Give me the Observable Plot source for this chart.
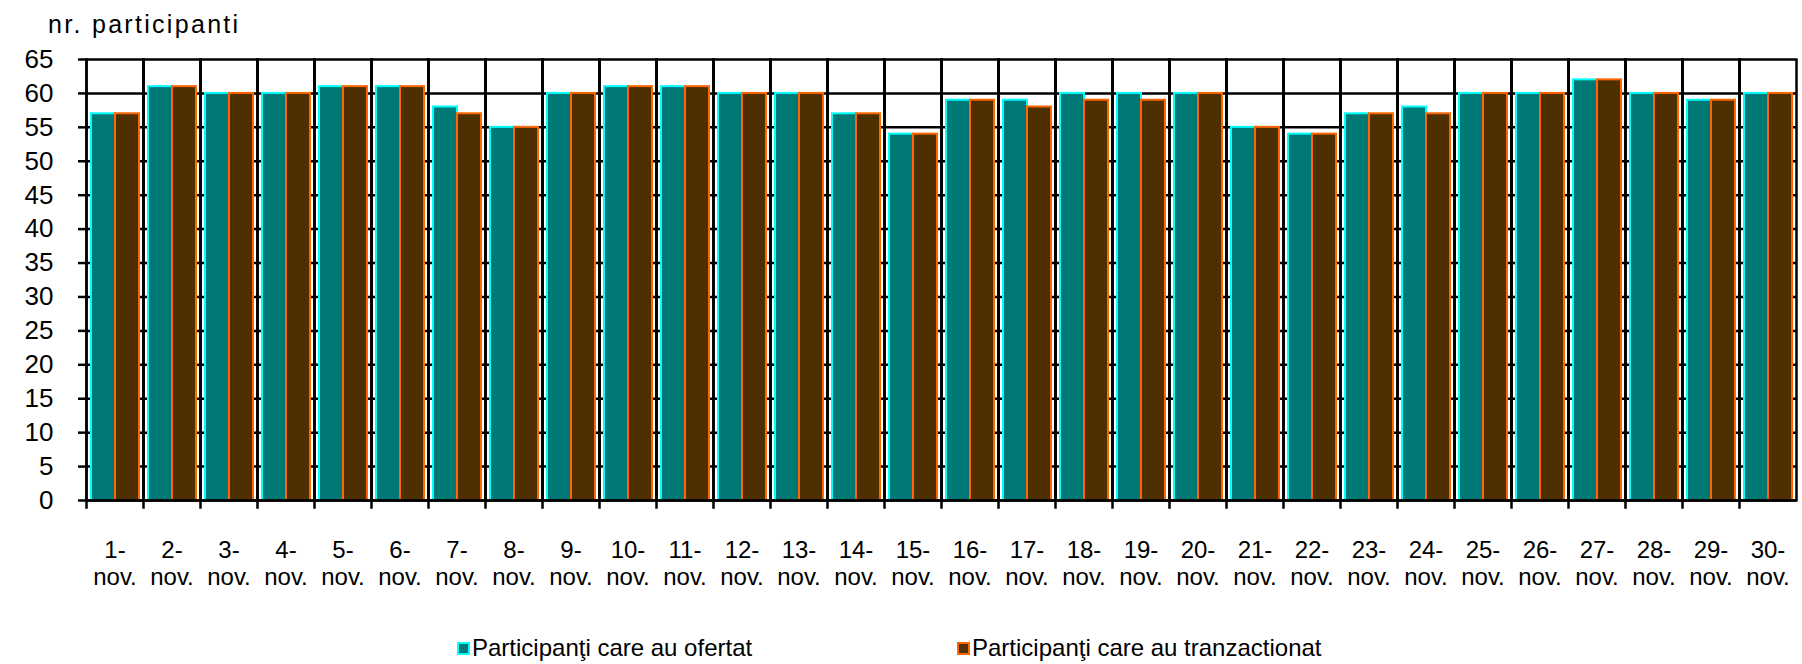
<!DOCTYPE html>
<html><head><meta charset="utf-8">
<script src="https://cdn.jsdelivr.net/npm/d3@7"></script>
<script src="https://cdn.jsdelivr.net/npm/@observablehq/plot@0.6"></script>
<style>
html,body{margin:0;padding:0;background:#fff;overflow:hidden;width:1802px;height:664px;font-family:"Liberation Sans",Arial,sans-serif;color:#000;}
#title{height:28px;padding-top:12px;padding-left:48px;font-size:25px;line-height:25px;letter-spacing:2.3px;}
#legend{position:relative;height:29px;margin-top:38px;font-size:24px;line-height:29px;}
.item{position:absolute;top:0;white-space:nowrap;}
.sw{display:inline-block;width:9px;height:9px;border:2px solid;margin-right:2px;vertical-align:1px;}
</style></head><body>
<div id="title">nr. participanti</div>
<div id="chart"></div>
<div id="legend"></div>
<script>
const days = [1,2,3,4,5,6,7,8,9,10,11,12,13,14,15,16,17,18,19,20,21,22,23,24,25,26,27,28,29,30];
const month = "nov.";
const seriesNames = ["Participanţi care au ofertat", "Participanţi care au tranzactionat"];
const ofertat =       [57,61,60,60,61,61,58,55,60,61,61,60,60,57,54,59,59,60,60,60,55,54,57,58,60,60,62,60,59,60];
const tranzactionat = [57,61,60,60,61,61,57,55,60,61,61,60,60,57,54,59,58,59,59,60,55,54,57,57,60,60,62,60,59,60];
const yTicks = [0,5,10,15,20,25,30,35,40,45,50,55,60,65];
const fills = ["#007875", "#4e2f00"];
const strokes = ["#00ffff", "#ff6600"];

const data = days.flatMap((d, i) => [
  {day: d, series: seriesNames[0], value: ofertat[i]},
  {day: d, series: seriesNames[1], value: tranzactionat[i]}
]);

const chart = Plot.plot({
  width: 1802, height: 555,
  marginLeft: 76, marginRight: -3, marginTop: 19, marginBottom: 95,
  style: {fontFamily: "Liberation Sans, Arial, sans-serif", color: "#000", background: "transparent", overflow: "visible"},
  fx: {domain: days, padding: 0, label: null},
  x: {domain: seriesNames, paddingInner: 0, paddingOuter: 0.185, axis: null},
  y: {domain: [0, 65], label: null},
  marks: [
    Plot.ruleY(yTicks.filter(t => t > 0 && t < 65), {stroke: "#000", strokeWidth: 2.5}),
    ...seriesNames.map((s, k) => Plot.barY(data.filter(d => d.series === s), {
      fx: "day", x: "series", y: "value", fill: fills[k], stroke: strokes[k], strokeWidth: 2
    })),
    Plot.frame({stroke: "#000", strokeWidth: 2.5}),
    Plot.frame({anchor: "left", insetBottom: -7, stroke: "#000", strokeWidth: 2.5}),
    Plot.ruleY([0], {stroke: "#000", strokeWidth: 2.5}),
    Plot.axisY({ticks: yTicks, tickSize: 8, tickPadding: 25, fontSize: 26, strokeWidth: 2.5, label: null}),
    Plot.axisFx({anchor: "bottom", tickSize: 0, tickPadding: 38, fontSize: 24, lineHeight: 1.125, tickFormat: d => `${d}-\n${month}`, label: null})
  ]
});
document.getElementById("chart").appendChild(chart);

const legend = document.getElementById("legend");
const legendX = [457, 957];
seriesNames.forEach((s, k) => {
  const it = document.createElement("div");
  it.className = "item";
  it.style.left = legendX[k] + "px";
  it.innerHTML = `<span class="sw" style="background:${fills[k]};border-color:${strokes[k]}"></span>${s}`;
  legend.appendChild(it);
});
</script>
</body></html>
